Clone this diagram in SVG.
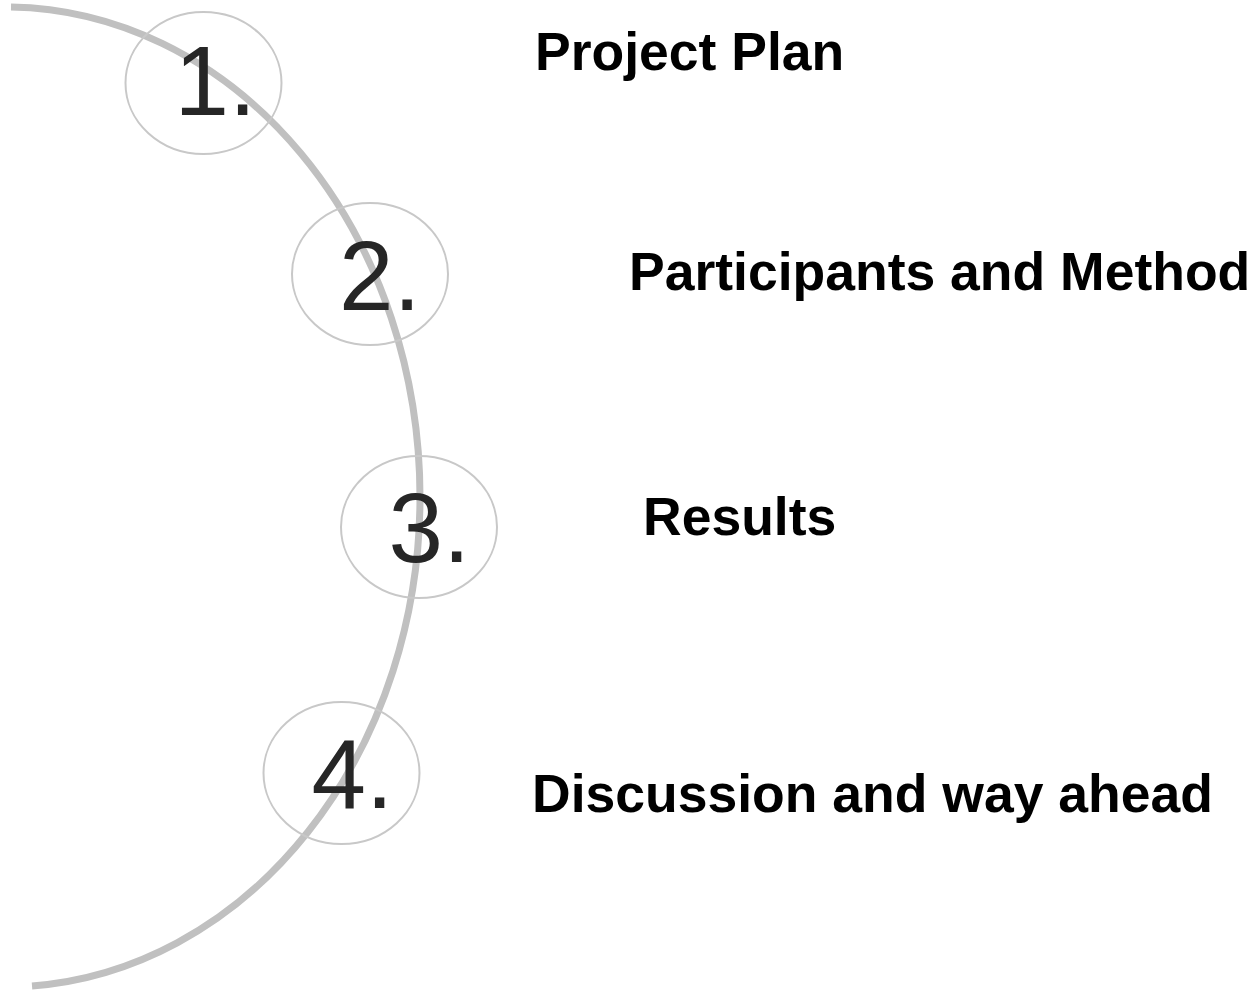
<svg xmlns="http://www.w3.org/2000/svg" width="1254" height="990" viewBox="0 0 1254 990">
  <style>
    .arc { fill: none; stroke: #c0c0c0; stroke-width: 7; stroke-linecap: butt; }
    .ring { fill: none; stroke: #c8c8c8; stroke-width: 2; }
    .num { font-family: "Liberation Sans", Arial, sans-serif; font-size: 98px; fill: #262626; }
    .label { font-family: "Liberation Sans", Arial, sans-serif; font-size: 53.5px; font-weight: bold; fill: #000000; }
  </style>
  <rect width="1254" height="990" fill="#ffffff"/>

  <!-- sweeping elliptical arc that links the four steps (centre 5,497) -->
  <g id="connectors">
    <path class="arc" d="M 11 7.05 A 415 490 0 0 1 420 497 A 415 490 0 0 1 32 985.96"/>
  </g>

  <g id="step1">
    <ellipse class="ring" cx="203.5" cy="83" rx="78" ry="71"/>
    <text class="num" x="174.5" y="115">1.</text>
  </g>
  <g id="step2">
    <ellipse class="ring" cx="370" cy="274" rx="78" ry="71"/>
    <text class="num" x="339" y="310">2.</text>
  </g>
  <g id="step3">
    <ellipse class="ring" cx="419" cy="527" rx="78" ry="71"/>
    <text class="num" x="388.5" y="562">3.</text>
  </g>
  <g id="step4">
    <ellipse class="ring" cx="341.5" cy="773" rx="78" ry="71"/>
    <text class="num" x="311.5" y="808">4.</text>
  </g>

  <g id="labels">
    <text id="label1" class="label" x="535" y="70">Project Plan</text>
    <text id="label2" class="label" x="629" y="290">Participants and Method</text>
    <text id="label3" class="label" x="643" y="535">Results</text>
    <text id="label4" class="label" x="532" y="812">Discussion and way ahead</text>
  </g>
</svg>
